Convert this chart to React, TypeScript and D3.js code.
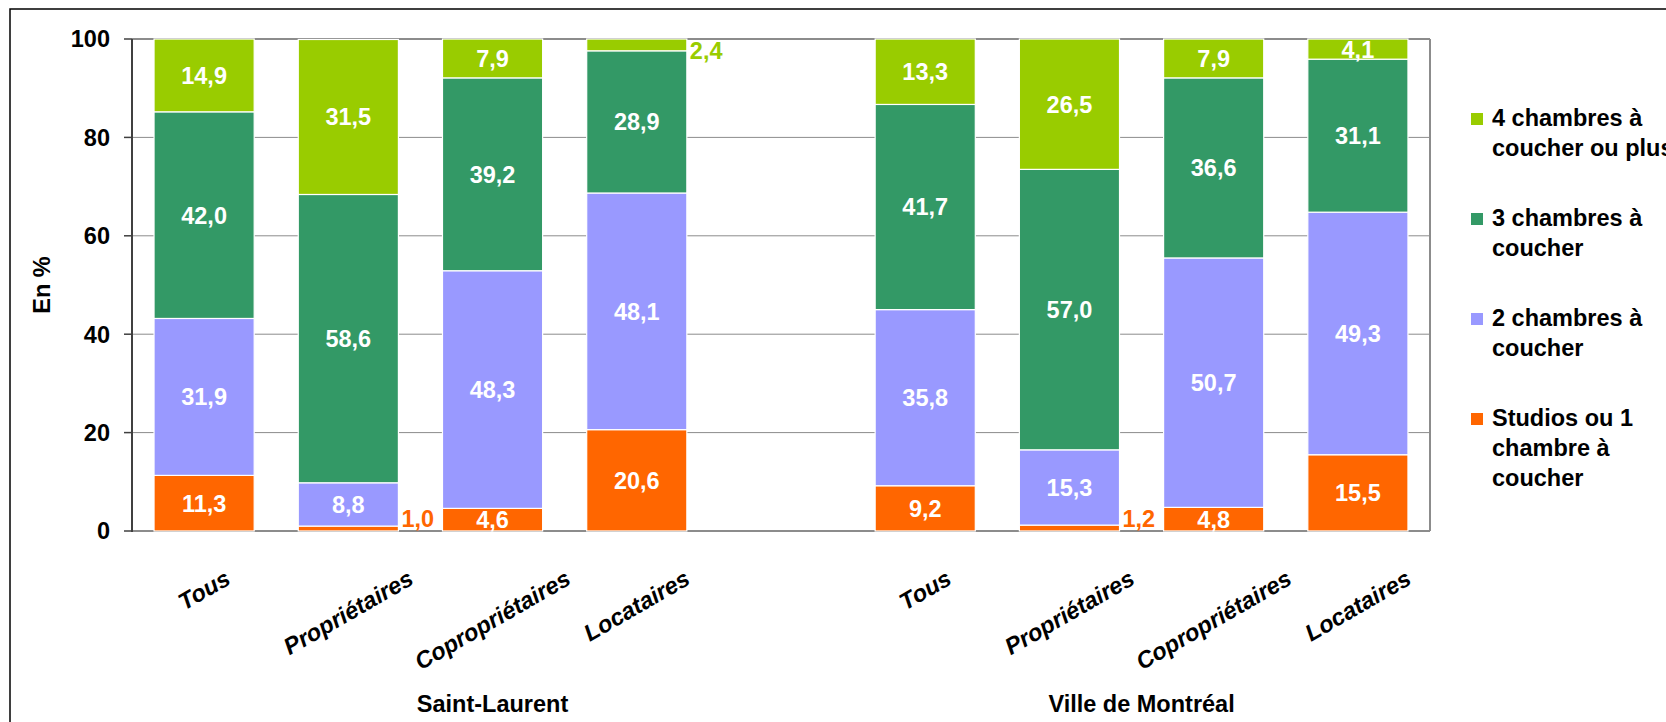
import * as d3 from 'd3'
import { useEffect, useRef } from 'react'

const groups = ['Saint-Laurent', 'Ville de Montréal']
const categories = ['Tous', 'Propriétaires', 'Copropriétaires', 'Locataires']
const seriesNames = ['Studios ou 1 chambre à coucher', '2 chambres à coucher', '3 chambres à coucher', '4 chambres à coucher ou plus']
const legendLines = [['Studios ou 1', 'chambre à', 'coucher'], ['2 chambres à', 'coucher'], ['3 chambres à', 'coucher'], ['4 chambres à', 'coucher ou plus']]
const colors = ['#FF6600', '#9999FF', '#339966', '#99CC00']
// Saint-Laurent (4) puis Ville de Montréal (4)
const studios = [11.3, 1.0, 4.6, 20.6, 9.2, 1.2, 4.8, 15.5]
const deuxCh = [31.9, 8.8, 48.3, 48.1, 35.8, 15.3, 50.7, 49.3]
const troisCh = [42.0, 58.6, 39.2, 28.9, 41.7, 57.0, 36.6, 31.1]
const quatreCh = [14.9, 31.5, 7.9, 2.4, 13.3, 26.5, 7.9, 4.1]
const yTicks = [0, 20, 40, 60, 80, 100]

const FONT = '"Liberation Sans", Arial, sans-serif'
const FS = 23.5
const fmt = (v: number) => v.toFixed(1).replace('.', ',')

export default function App() {
  const svgRef = useRef<SVGSVGElement>(null)

  useEffect(() => {
    document.body.style.margin = '0'
    if (!svgRef.current) return
    const svg = d3.select(svgRef.current)
    svg.selectAll('*').remove()

    const W = 1666
    const H = 722
    const plot = { left: 132, right: 1430, top: 39, bottom: 531 }

    // 9 emplacements : 4 catégories, un vide, 4 catégories
    const slots: string[] = []
    groups.forEach((g, gi) => {
      if (gi > 0) slots.push('gap')
      categories.forEach((c) => slots.push(`${gi}|${c}`))
    })
    const x = d3.scaleBand<string>().domain(slots).range([plot.left, plot.right]).paddingInner(0.3056).paddingOuter(0.1528)
    const y = d3.scaleLinear().domain([0, 100]).range([plot.bottom, plot.top])
    const bw = x.bandwidth()

    svg.attr('viewBox', `0 0 ${W} ${H}`).attr('width', W).attr('height', H).style('display', 'block').style('font-family', FONT)

    // cadre extérieur
    svg.append('rect').attr('x', 10).attr('y', 9).attr('width', W + 40).attr('height', H + 40).attr('fill', '#fff').attr('stroke', '#000').attr('stroke-width', 1.5)

    // grille
    svg.append('g')
      .selectAll('line')
      .data(yTicks.filter((t) => t > 0 && t < 100))
      .join('line')
      .attr('x1', plot.left)
      .attr('x2', plot.right)
      .attr('y1', (d) => y(d))
      .attr('y2', (d) => y(d))
      .attr('stroke', '#8c8c8c')
      .attr('stroke-width', 1)

    // bordure zone de tracé
    svg.append('line').attr('x1', plot.left).attr('x2', plot.right).attr('y1', y(100)).attr('y2', y(100)).attr('stroke', '#8c8c8c').attr('stroke-width', 2)
    svg.append('line').attr('x1', plot.right).attr('x2', plot.right).attr('y1', y(100)).attr('y2', y(0)).attr('stroke', '#8c8c8c').attr('stroke-width', 2)
    svg.append('line').attr('x1', plot.left).attr('x2', plot.right).attr('y1', y(0)).attr('y2', y(0)).attr('stroke', '#8c8c8c').attr('stroke-width', 2)

    const series = [studios, deuxCh, troisCh, quatreCh]
    const keys = slots.filter((s) => s !== 'gap')

    const bars = svg.append('g')
    const labels = svg.append('g')
    keys.forEach((k, i) => {
      let acc = 0
      series.forEach((vals, si) => {
        const v = vals[i]
        const y0 = acc
        const y1 = Math.min(100, acc + v)
        acc += v
        const x0 = x(k)!
        bars.append('rect')
          .attr('x', x0)
          .attr('y', y(y1))
          .attr('width', bw)
          .attr('height', y(y0) - y(y1))
          .attr('fill', colors[si])
          .attr('stroke', '#fff')
          .attr('stroke-width', 1.2)
        const mid = (y(y0) + y(y1)) / 2
        if (v < 3) {
          const cy = Math.max(plot.top + 12, Math.min(plot.bottom - 12, mid))
          labels.append('text')
            .attr('x', x0 + bw + 3)
            .attr('y', cy)
            .attr('dy', '0.36em')
            .attr('fill', colors[si])
            .attr('font-size', FS)
            .attr('font-weight', 'bold')
            .text(fmt(v))
        } else {
          labels.append('text')
            .attr('x', x0 + bw / 2)
            .attr('y', mid)
            .attr('dy', '0.36em')
            .attr('text-anchor', 'middle')
            .attr('fill', '#fff')
            .attr('font-size', FS)
            .attr('font-weight', 'bold')
            .text(fmt(v))
        }
      })
    })

    // axe Y
    const yAxis = svg.append('g')
    yAxis.append('line').attr('x1', plot.left).attr('x2', plot.left).attr('y1', y(100)).attr('y2', y(0) + 1).attr('stroke', '#404040').attr('stroke-width', 2)
    yTicks.forEach((t) => {
      yAxis.append('line').attr('x1', plot.left - 8).attr('x2', plot.left).attr('y1', y(t)).attr('y2', y(t)).attr('stroke', '#404040').attr('stroke-width', 1.5)
      yAxis.append('text')
        .attr('x', plot.left - 22)
        .attr('y', y(t))
        .attr('dy', '0.36em')
        .attr('text-anchor', 'end')
        .attr('font-size', FS)
        .attr('font-weight', 'bold')
        .attr('fill', '#000')
        .text(t)
    })
    svg.append('text')
      .attr('transform', `translate(50,${(plot.top + plot.bottom) / 2}) rotate(-90)`)
      .attr('text-anchor', 'middle')
      .attr('font-size', FS)
      .attr('font-weight', 'bold')
      .text('En %')

    // étiquettes X, inclinées à -30°
    const ang = (30 * Math.PI) / 180
    keys.forEach((k) => {
      const cat = k.split('|')[1]
      const t = svg.append('text')
        .attr('text-anchor', 'middle')
        .attr('dominant-baseline', 'central')
        .attr('font-size', FS)
        .attr('font-weight', 'bold')
        .attr('font-style', 'italic')
        .text(cat)
      const w = (t.node() as SVGTextElement).getComputedTextLength()
      const boxH = w * Math.sin(ang) + FS * Math.cos(ang)
      t.attr('transform', `translate(${x(k)! + bw / 2},${566 + boxH / 2}) rotate(-30)`)
    })

    // libellés de groupe
    const slCenter = x(`0|${categories[2]}`)! + bw / 2
    const mtlCenter = (x(`1|${categories[1]}`)! + x(`1|${categories[2]}`)! + bw) / 2
    ;[slCenter, mtlCenter].forEach((cx, gi) => {
      svg.append('text')
        .attr('x', cx)
        .attr('y', 712)
        .attr('text-anchor', 'middle')
        .attr('font-size', FS)
        .attr('font-weight', 'bold')
        .text(groups[gi])
    })

    // légende (ordre inverse)
    const leg = svg.append('g')
    ;[3, 2, 1, 0].forEach((si, li) => {
      const top = 113 + li * 100
      leg.append('rect').attr('x', 1471).attr('y', top).attr('width', 12).attr('height', 12).attr('fill', colors[si]).append('title').text(seriesNames[si])
      legendLines[si].forEach((ln, j) => {
        leg.append('text')
          .attr('x', 1492)
          .attr('y', top + 13 + j * 30)
          .attr('font-size', FS)
          .attr('font-weight', 'bold')
          .text(ln)
      })
    })
  }, [])

  return <svg ref={svgRef} />
}
